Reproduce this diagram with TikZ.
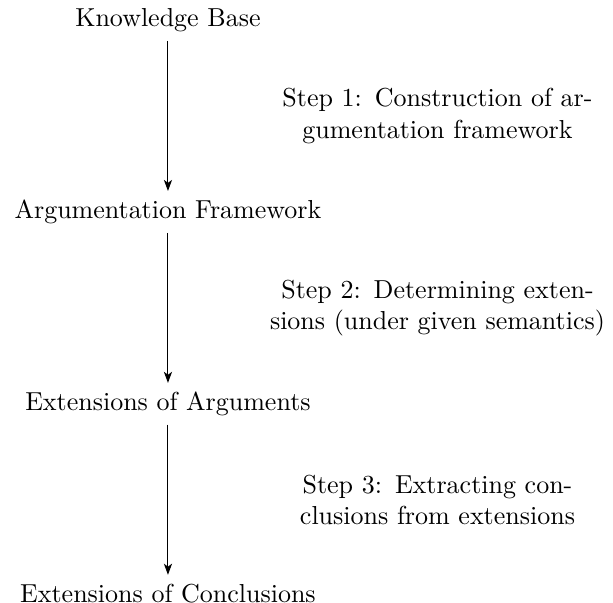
\documentclass[tikz,border=0pt]{standalone}
\usetikzlibrary{positioning, calc, arrows.meta}
\tikzset{
  stage/.style = {
    text height=7pt, text depth=2pt, align=center
  },
  steplabel/.style = {
    text width=4.6cm, align=center
  },
  arrow/.style = {
    -{Stealth[length=1.5mm, width=1.1mm, inset=0.4mm]}
  }
}

\begin{document}
\begin{tikzpicture}[
  node distance = 2.03cm
  ]
  \useasboundingbox (-2.271,0.270) rectangle (6.017,-7.882);

  % Stages
  \node[stage] (kb) at (0,0) {Knowledge Base};
  \node[stage, below=of kb] (af) {Argumentation Framework};
  \node[stage, below=of af] (extarg) {Extensions of Arguments};
  \node[stage, below=of extarg] (extconc) {Extensions of Conclusions};

  % Arrows
  \draw[arrow] (kb) -- (af) coordinate[midway] (m1);
  \draw[arrow] (af) -- (extarg) coordinate[midway] (m2);
  \draw[arrow] (extarg) -- (extconc) coordinate[midway] (m3);

  % Step labels
  \node[steplabel, right=1.22cm of m1] (step1) {Step 1: Construction of ar-\\gumentation framework};
  \node[steplabel, right=1.22cm of m2] (step2) {Step 2: Determining exten-\\sions (under given semantics)};
  \node[steplabel, right=1.22cm of m3] (step3) {Step 3: Extracting con-\\clusions from extensions};

\end{tikzpicture}
\end{document}
